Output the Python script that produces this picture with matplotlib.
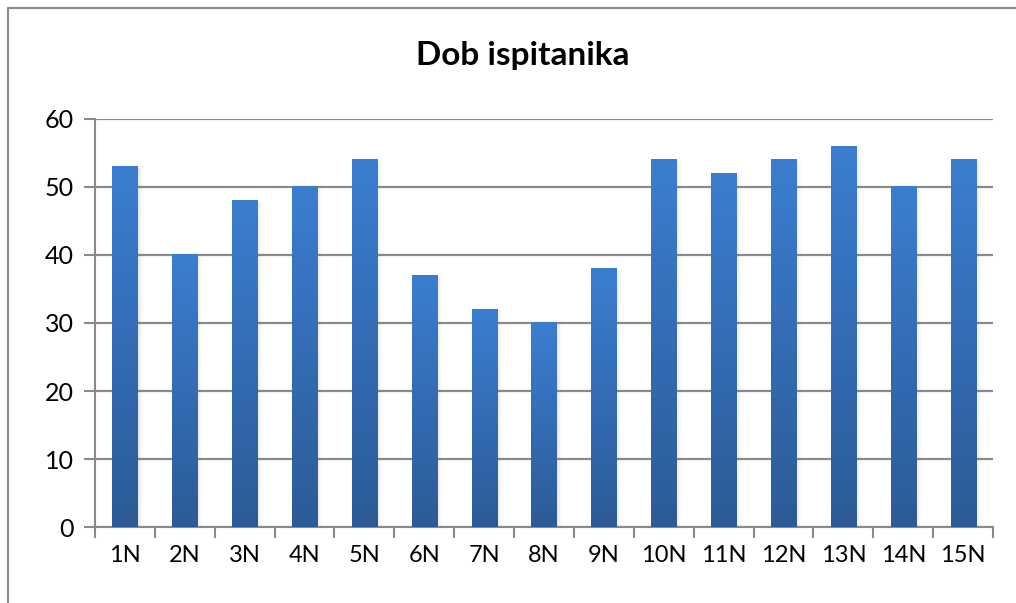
import matplotlib.pyplot as plt
import matplotlib.transforms as mtransforms
from matplotlib.colors import LinearSegmentedColormap
from matplotlib.patches import Rectangle
import numpy as np

categories = ['1N', '2N', '3N', '4N', '5N', '6N', '7N', '8N', '9N', '10N', '11N', '12N', '13N', '14N', '15N']
ages = [53, 40, 48, 50, 54, 37, 32, 30, 38, 54, 52, 54, 56, 50, 54]

plt.rcParams['font.family'] = ['Lato', 'DejaVu Sans']

fig = plt.figure(figsize=(10.16, 6.03), dpi=100)
ax = fig.add_axes([0.0935, 0.126, 0.8839, 0.6767])

# outer chart border (right and bottom edges run off the picture)
fig.patches.append(Rectangle((8 / 1016, -0.05), 1.5, 595 / 603 + 0.05,
                             transform=fig.transFigure, fill=False,
                             edgecolor='#8c8c8c', linewidth=1.5))

x = np.arange(len(categories))
grad = LinearSegmentedColormap.from_list('bar', ['#2c5b97', '#3b7ed0'])

# soft shadow to the right of each bar
for off, a in [(1, 0.10), (3, 0.07), (5, 0.04)]:
    tr = mtransforms.offset_copy(ax.transData, fig=fig, x=off, y=-1, units='dots')
    ax.bar(x, ages, width=0.42, color='#808080', alpha=a, transform=tr, zorder=2)

bars = ax.bar(x, ages, width=0.42, color='#3470b8', zorder=3)
g = np.linspace(0, 1, 256).reshape(-1, 1)
for b in bars:
    ax.imshow(g, cmap=grad, origin='lower', aspect='auto', zorder=4,
              extent=(b.get_x(), b.get_x() + b.get_width(), 0, b.get_height()))

ax.set_xlim(-0.5, len(categories) - 0.5)
ax.set_ylim(0, 60)
ax.set_yticks(range(0, 61, 10))
ax.yaxis.grid(True, color='#8a8a8a', linewidth=1.6)
ax.set_axisbelow(True)

ax.set_xticks(x)
ax.set_xticklabels(categories, fontsize=17)
ax.set_xticks(np.arange(-0.5, len(categories), 1), minor=True)
ax.tick_params(axis='x', which='major', length=0, pad=13)
ax.tick_params(axis='x', which='minor', length=8, width=1.5, color='#8a8a8a')
ax.tick_params(axis='y', length=8, width=1.5, color='#8a8a8a', labelsize=18, pad=7)

for s in ['top', 'right']:
    ax.spines[s].set_visible(False)
for s in ['left', 'bottom']:
    ax.spines[s].set_color('#8a8a8a')
    ax.spines[s].set_linewidth(1.5)

fig.text(0.515, 0.908, 'Dob ispitanika', ha='center', va='center',
         fontsize=24, fontweight='bold')

fig.savefig('out.png', dpi=100)
